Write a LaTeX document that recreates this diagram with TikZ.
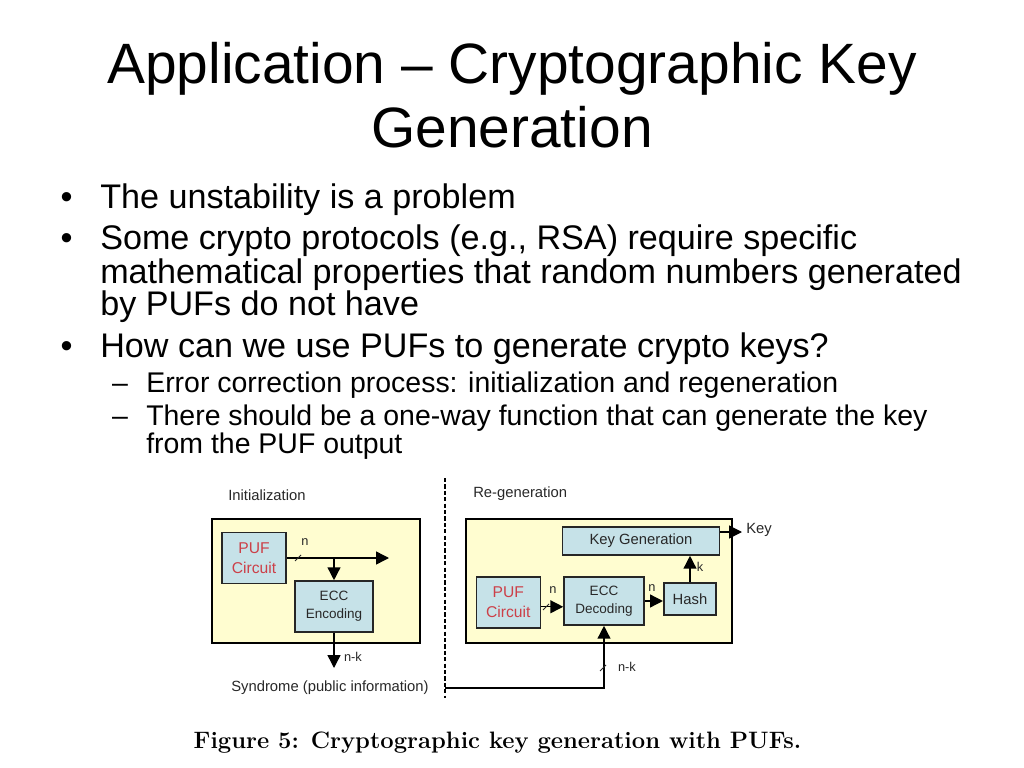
\documentclass[tikz,border=0pt]{standalone}
\usepackage{fontspec}
\setsansfont{Liberation Sans}
\usetikzlibrary{arrows.meta}
\newcommand{\pxl}{0.703125pt}
\definecolor{boxyellow}{RGB}{255,253,208}
\definecolor{boxblue}{RGB}{198,226,232}
\definecolor{pufred}{RGB}{204,64,72}
\definecolor{inkgray}{RGB}{40,40,40}

\begin{document}
\begin{tikzpicture}[x=\pxl, y=-\pxl,
  titletext/.style={font=\sffamily\fontsize{40}{44}\selectfont, inner sep=0pt, anchor=base},
  bodytext/.style={font=\sffamily\fontsize{24}{28}\selectfont, inner sep=0pt, anchor=base west},
  subtext/.style={font=\sffamily\fontsize{20}{24}\selectfont, inner sep=0pt, anchor=base west},
  panel/.style={draw=black, fill=boxyellow, line width=1pt},
  block/.style={draw=black!85, fill=boxblue, line width=1.1pt, inner sep=0pt, align=center, text=inkgray, font=\sffamily\fontsize{9.5}{12.5}\selectfont},
  pufblock/.style={block, text=pufred, font=\sffamily\fontsize{11}{14}\selectfont, minimum width=64*\pxl, minimum height=51*\pxl},
  diagtext/.style={font=\sffamily\fontsize{10.4}{12}\selectfont, inner sep=0pt, text=inkgray},
  lbl/.style={font=\sffamily\fontsize{9}{10}\selectfont, inner sep=0pt, text=inkgray},
  arr/.style={line width=1pt, -{Triangle[length=9pt,width=9pt]}},
  tick/.style={line width=0.7pt, inkgray}]
\useasboundingbox[fill=white] (0,0) rectangle (1024,768);

% title and bullets
\node[titletext] (title1) at (512,84) {Application – Cryptographic Key};
\node[titletext] (title2) at (512,148) {Generation};

\node[bodytext, anchor=base] (dot1) at (66.7,209) {•};
\node[bodytext] (item1) at (100,209) {The unstability is a problem};
\node[bodytext, anchor=base] (dot2) at (66.7,250) {•};
\node[bodytext] (item2a) at (100,250) {Some crypto protocols (e.g., RSA) require specific};
\node[bodytext] (item2b) at (100,283) {mathematical properties that random numbers generated};
\node[bodytext] (item2c) at (100,315) {by PUFs do not have};
\node[bodytext, anchor=base] (dot3) at (66.7,357) {•};
\node[bodytext] (item3) at (100,357) {How can we use PUFs to generate crypto keys?};
\node[subtext, anchor=base] (dash1) at (120,392) {–};
\node[subtext] (sub1) at (146,392) {Error correction process: initialization and regeneration};
\node[subtext, anchor=base] (dash2) at (120,425) {–};
\node[subtext] (sub2a) at (146,425) {There should be a one-way function that can generate the key};
\node[subtext] (sub2b) at (146,453) {from the PUF output};

% initialization
\node[diagtext, anchor=west] (initlabel) at (228,495) {Initialization};
\node[panel, minimum width=208*\pxl, minimum height=124*\pxl] (initpanel) at (316,581) {};
\node[pufblock] (pufinit) at (254,558) {PUF\\Circuit};
\node[block, minimum width=78*\pxl, minimum height=51*\pxl] (encode) at (334,606.5) {ECC\\Encoding};
\coordinate (initout) at (389,558);
\coordinate (syndout) at (334,668);
\draw[arr] (pufinit.east) -- (initout);
\draw[arr] (pufinit.east -| encode.north) -- (encode.north);
\draw[arr] (encode.south) -- (syndout);
\draw[tick] (295,561) -- (301,555);
\node[lbl] (ninit) at (305,542) {n};
\node[lbl] (nkinit) at (353,657) {n-k};
\node[diagtext] (syndlabel) at (330,688) {Syndrome (public information)};

% separator
\coordinate (septop) at (445,478);
\coordinate (sepbot) at (445,698);
\draw[line width=0.8pt, dash pattern=on 3pt off 1.5pt] (septop) -- (sepbot);

% re-generation
\node[diagtext, anchor=west] (regenlabel) at (473,494) {Re-generation};
\node[panel, minimum width=266*\pxl, minimum height=124*\pxl] (regenpanel) at (599,581) {};
\node[block, font=\sffamily\fontsize{10.4}{12}\selectfont, minimum width=157*\pxl, minimum height=28*\pxl] (keygen) at (641,541) {Key Generation};
\node[pufblock] (pufregen) at (508.3,602.5) {PUF\\Circuit};
\node[block, minimum width=80*\pxl, minimum height=48*\pxl] (decode) at (604,601) {ECC\\Decoding};
\node[block, font=\sffamily\fontsize{10.4}{12}\selectfont, minimum width=52.5*\pxl, minimum height=32*\pxl] (hash) at (690,599) {Hash};
\coordinate (keyout) at (742,532);
\coordinate (syndin) at (445,688);
\draw[arr] ([yshift=-3pt]pufregen.east) -- ([yshift=-3pt]pufregen.east -| decode.west);
\draw[arr] (decode.east) -- (decode.east -| hash.west);
\draw[arr] (hash.north) -- (hash.north |- keygen.south);
\draw[arr] (keygen.east |- keyout) -- (keyout);
\draw[arr] (syndin) -| (decode.south);
\draw[tick] (543,610) -- (549,604);
\draw[tick] (600,671) -- (606,665);
\node[lbl] (nregen) at (553,590) {n};
\node[lbl] (nhash) at (652,588) {n};
\node[lbl] (khash) at (700,567) {k};
\node[lbl] (nkregen) at (627,667) {n-k};
\node[diagtext, anchor=west] (keylabel) at (746,530) {Key};

\node[font=\rmfamily\bfseries\fontsize{16.7}{19}\selectfont, inner sep=0pt, anchor=base] (caption) at (497.5,748) {Figure 5: Cryptographic key generation with PUFs.};
\end{tikzpicture}
\end{document}
